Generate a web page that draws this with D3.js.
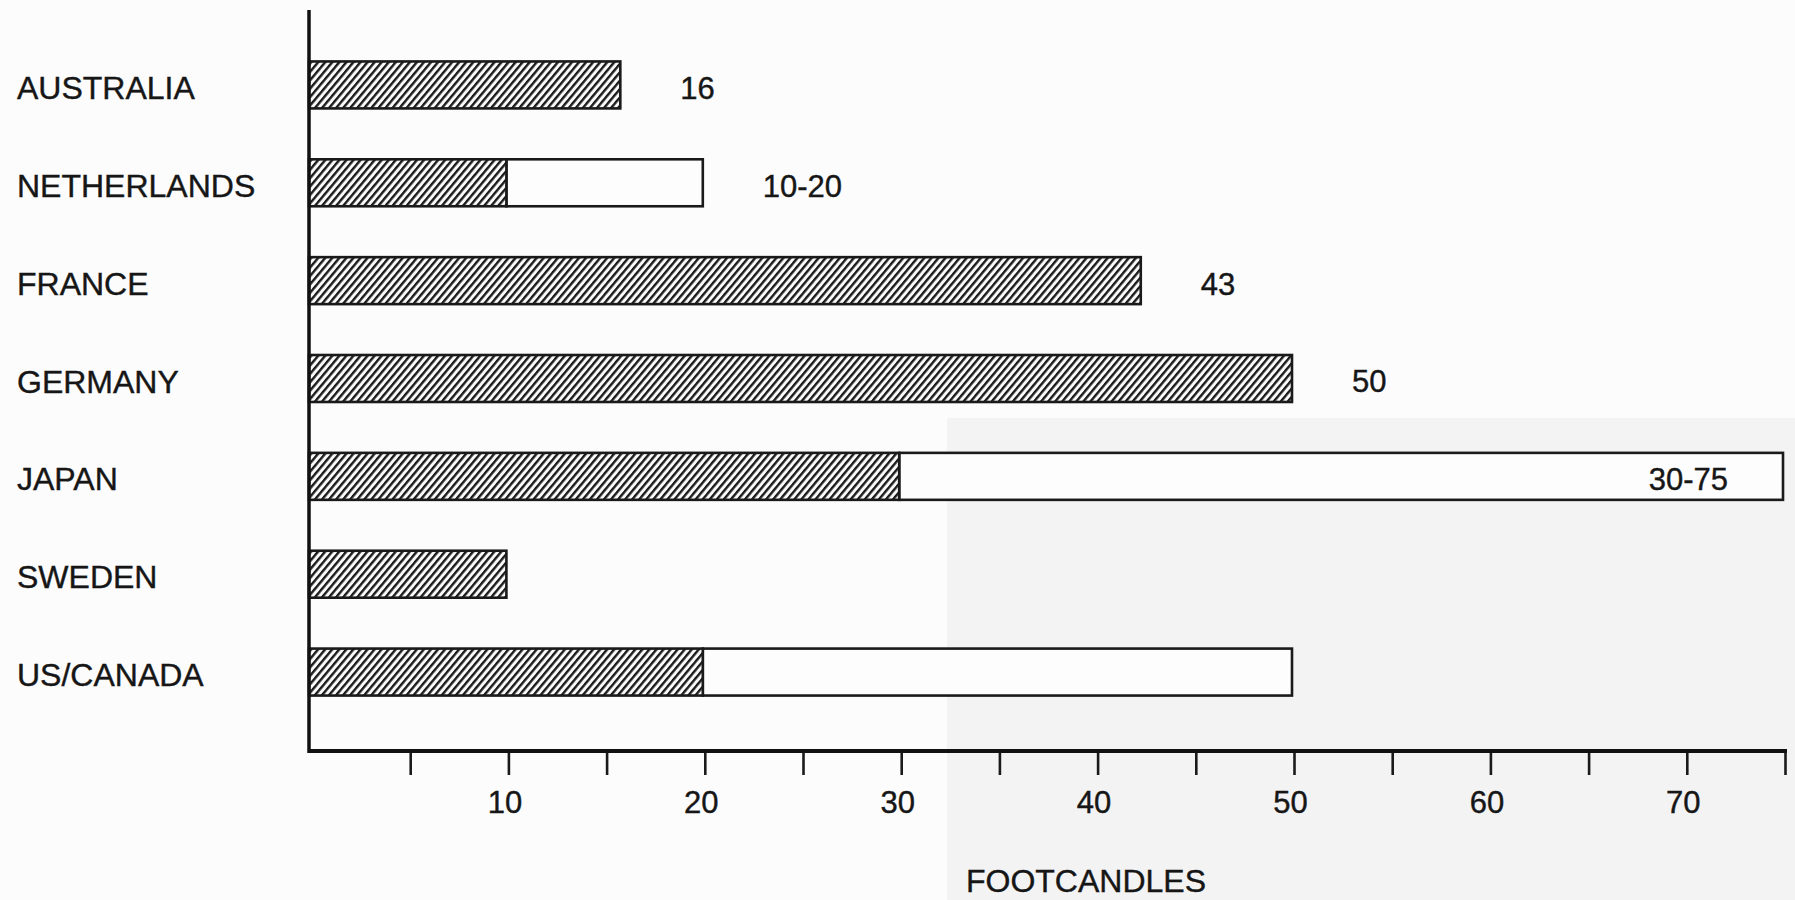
<!DOCTYPE html>
<html>
<head>
<meta charset="utf-8">
<script src="https://cdn.jsdelivr.net/npm/d3@7/dist/d3.min.js"></script>
<style>
  html, body { margin: 0; padding: 0; background: #fcfcfc; }
  svg { display: block; }
  text { font-family: "Liberation Sans", Arial, sans-serif; fill: #161616; stroke: #161616; stroke-width: 0.4; }
</style>
</head>
<body>
<script>
// Recommended illumination levels by country (footcandles)
const countries = ['AUSTRALIA', 'NETHERLANDS', 'FRANCE', 'GERMANY', 'JAPAN', 'SWEDEN', 'US/CANADA'];
const lowValues = [15.8, 10, 42.3, 50, 30, 10, 20];   // hatched part, as drawn
const highValues = [15.8, 20, 42.3, 50, 75, 10, 50];  // end of open part (range top)
const valueLabels = ['16', '10-20', '43', '50', '30-75', '', ''];
const xTicks = [5, 10, 15, 20, 25, 30, 35, 40, 45, 50, 55, 60, 65, 70, 75];
const xTickLabels = ['', '10', '', '20', '', '30', '', '40', '', '50', '', '60', '', '70', ''];
const xTitle = 'FOOTCANDLES';

(function () {
  'use strict';

  const width = 1795, height = 900;
  const axisY = 751, axisX = 309;

  const svg = d3.select('body').append('svg')
    .attr('width', width)
    .attr('height', height);

  // faint scan tone on the lower right of the page
  svg.append('rect')
    .attr('x', 947).attr('y', 418)
    .attr('width', width - 947).attr('height', height - 418)
    .attr('fill', '#f3f3f3');

  const defs = svg.append('defs');
  const hatch = defs.append('pattern')
    .attr('id', 'hatch')
    .attr('patternUnits', 'userSpaceOnUse')
    .attr('width', 5.4)
    .attr('height', 10)
    .attr('patternTransform', 'rotate(40)');
  hatch.append('rect').attr('width', 5.4).attr('height', 10).attr('fill', '#fafafa');
  hatch.append('rect').attr('x', 0).attr('width', 2.4).attr('height', 10).attr('fill', '#1a1a1a');

  const x = d3.scaleLinear().domain([0, 75]).range([310, 1783]);
  const y = d3.scaleBand().domain(countries)
    .range([36, 721])
    .paddingInner(0.52)
    .paddingOuter(0.26);

  const rows = countries.map(function (c, i) {
    return { name: c, lo: lowValues[i], hi: highValues[i], label: valueLabels[i] };
  });

  const bar = svg.append('g').selectAll('g')
    .data(rows)
    .join('g')
    .attr('transform', function (d) { return 'translate(0,' + y(d.name) + ')'; });

  // open (range) part
  bar.filter(function (d) { return d.hi > d.lo; })
    .append('rect')
    .attr('x', function (d) { return x(d.lo); })
    .attr('width', function (d) { return x(d.hi) - x(d.lo); })
    .attr('height', y.bandwidth())
    .attr('fill', '#fdfdfd')
    .attr('stroke', '#1a1a1a')
    .attr('stroke-width', 2.6);

  // hatched part
  bar.append('rect')
    .attr('x', axisX)
    .attr('width', function (d) { return x(d.lo) - axisX; })
    .attr('height', y.bandwidth())
    .attr('fill', 'url(#hatch)')
    .attr('stroke', '#1a1a1a')
    .attr('stroke-width', 2.6);

  // value labels: outside the bar, or inside when the bar reaches the end of the scale
  bar.append('text')
    .attr('x', function (d) {
      return d.hi >= x.domain()[1] ? x(d.hi) - 55 : x(d.hi) + 60;
    })
    .attr('y', y.bandwidth() / 2 + 14)
    .attr('text-anchor', function (d) { return d.hi >= x.domain()[1] ? 'end' : 'start'; })
    .attr('font-size', 31)
    .text(function (d) { return d.label; });

  // country names
  svg.append('g').selectAll('text')
    .data(rows)
    .join('text')
    .attr('x', 17)
    .attr('y', function (d) { return y(d.name) + y.bandwidth() / 2 + 14; })
    .attr('font-size', 32)
    .text(function (d) { return d.name; });

  // x axis ticks and labels
  const xAxis = d3.axisBottom(x)
    .tickValues(xTicks)
    .tickSize(24)
    .tickSizeOuter(0)
    .tickPadding(16)
    .tickFormat(function (d, i) { return xTickLabels[i]; });

  const gx = svg.append('g')
    .attr('transform', 'translate(2,' + axisY + ')')
    .call(xAxis);
  gx.select('.domain').remove();
  gx.selectAll('.tick line').attr('stroke', '#1a1a1a').attr('stroke-width', 2.6);
  gx.selectAll('.tick text')
    .attr('font-size', 31)
    .attr('font-family', '"Liberation Sans", Arial, sans-serif')
    .attr('fill', '#161616')
    .attr('dx', -4);

  // axis lines
  svg.append('line')
    .attr('x1', axisX).attr('x2', x(75) + 4)
    .attr('y1', axisY).attr('y2', axisY)
    .attr('stroke', '#111').attr('stroke-width', 4);
  svg.append('line')
    .attr('x1', axisX).attr('x2', axisX)
    .attr('y1', 10).attr('y2', axisY + 2)
    .attr('stroke', '#111').attr('stroke-width', 3.5);

  svg.append('text')
    .attr('x', 1086)
    .attr('y', 892)
    .attr('text-anchor', 'middle')
    .attr('font-size', 32)
    .text(xTitle);
})();
</script>
</body>
</html>
